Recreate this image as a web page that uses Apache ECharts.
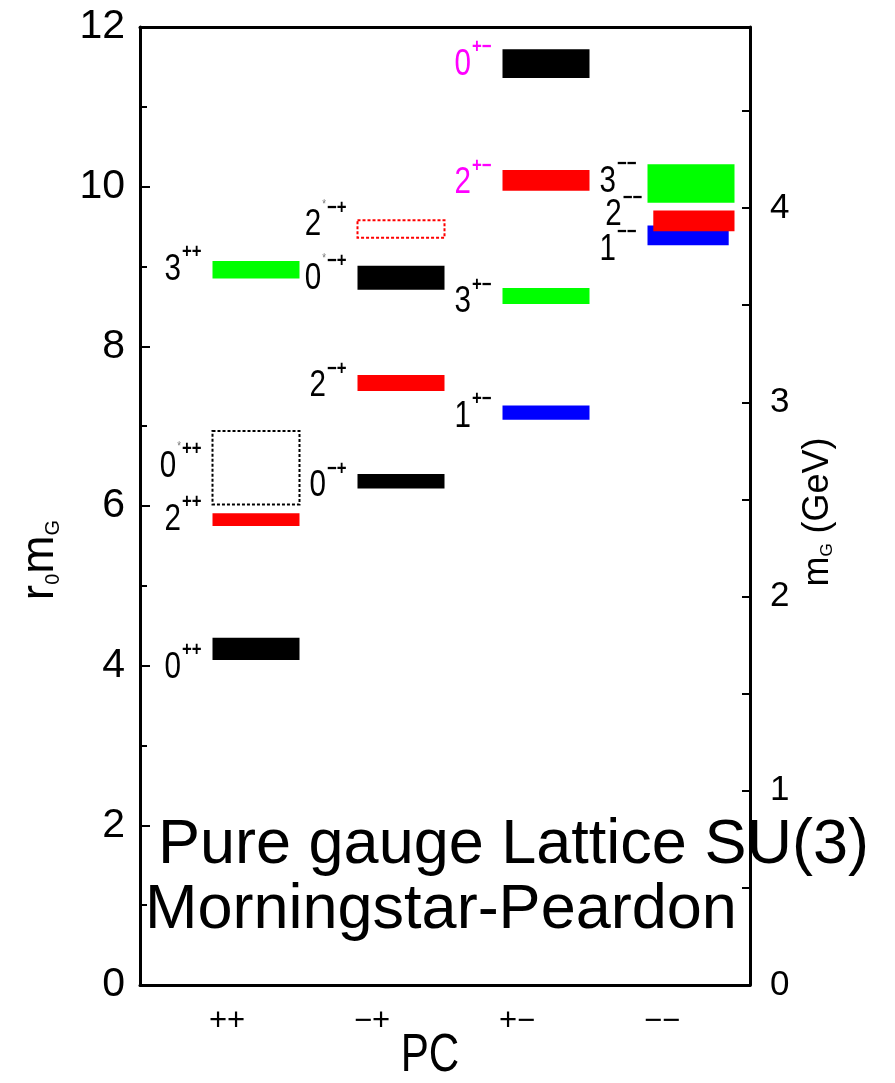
<!DOCTYPE html>
<html>
<head>
<meta charset="utf-8">
<script src="https://cdn.jsdelivr.net/npm/echarts@6/dist/echarts.min.js"></script>
<style>
html,body{margin:0;padding:0;background:#fff;}
#chart{width:895px;height:1083px;}
</style>
</head>
<body>
<div id="chart"></div>
<script>
// ---- data ----
const pcLabels = ['++', '\u2212+', '+\u2212', '\u2212\u2212'];
const leftTicks = [0, 2, 4, 6, 8, 10, 12];
const gevPerR0 = 0.411; // conversion r0 m_G -> GeV used for right axis
// glueball levels (r0 m_G), column = PC index
const levelJ     = ['0', '2', '0', '3',   '0', '2', '0', '2',   '1', '3', '2', '0',    '1', '2', '3'];
const levelStar  = [false, false, true, false,  false, false, true, true,  false, false, false, false,  false, false, false];
const levelCol   = [0, 0, 0, 0,   1, 1, 1, 1,   2, 2, 2, 2,   3, 3, 3];
const levelMass  = [4.21, 5.83, 6.48, 8.96,   6.31, 7.54, 8.86, 9.47,   7.17, 8.63, 10.08, 11.54,   9.39, 9.57, 10.04];
const levelErr   = [0.14, 0.08, 0.46, 0.11,   0.09, 0.10, 0.15, 0.11,   0.09, 0.10, 0.13, 0.18,   0.125, 0.13, 0.24];

// ---- styles ----
const levelColor = ['#000000', '#ff0000', '#000000', '#00ff00',  '#000000', '#ff0000', '#000000', '#ff0000',
                    '#0000ff', '#00ff00', '#ff0000', '#000000',  '#0000ff', '#ff0000', '#00ff00'];
const levelDashed = [false, false, true, false,  false, false, false, true,  false, false, false, false,  false, false, false];
const labelColor = ['#000', '#000', '#000', '#000',  '#000', '#000', '#000', '#000',  '#000', '#000', '#ff00ff', '#ff00ff',  '#000', '#000', '#000'];
const labelDy = [19, 0, -1, 0,  5, 3, 1, -4,  4, 6, 3, 1,  14, -6, -2];
const barInset = {12: [0, -0.04], 13: [0.04, 0]};

const sans = '"Liberation Sans", Arial, sans-serif';
const SX = 0.8;          // horizontal squeeze of level labels
const digitFont = 37, supFont = 21, starFont = 12;

const measureCtx = document.createElement('canvas').getContext('2d');
function textW(str, font) { measureCtx.font = font; return measureCtx.measureText(str).width; }

const data = levelMass.map((m, i) => [levelCol[i], m, levelErr[i]]);

const chart = echarts.init(document.getElementById('chart'));

function renderItem(params, api) {
  const i = params.dataIndex;
  const col = api.value(0), m = api.value(1), e = api.value(2);
  const ins = barInset[i] || [0, 0];
  const a = api.coord([col + 0.5 + ins[0], m + e]);
  const b = api.coord([col + 1.1 + ins[1], m - e]);
  const color = levelColor[i];
  const rect = {
    type: 'rect',
    shape: {x: a[0], y: a[1], width: b[0] - a[0], height: b[1] - a[1]},
    style: levelDashed[i]
      ? {fill: 'none', stroke: color, lineWidth: 2, lineDash: [3, 2]}
      : {fill: color}
  };
  const cy = api.coord([col + 0.5, m])[1] + labelDy[i];
  const lc = labelColor[i];
  const sup = pcLabels[col];
  const right = a[0] - 11;
  const supW = textW(sup, 'bold ' + supFont + 'px ' + sans) * SX;
  const supX = right - supW;
  const starW = levelStar[i] ? textW('*', starFont + 'px ' + sans) * SX + 1 : 0;
  const starX = supX - starW;
  const digitRight = starX - 1;
  const digitTop = cy - 0.358 * digitFont;
  const children = [rect,
    {
      type: 'text', x: digitRight, y: cy, scaleX: SX,
      style: {text: levelJ[i], fontSize: digitFont, fontFamily: sans, fill: lc, align: 'right', verticalAlign: 'middle'}
    },
    {
      type: 'text', x: supX, y: digitTop - 4, scaleX: SX,
      style: {text: sup, fontSize: supFont, fontWeight: 'bold', fontFamily: sans, fill: lc, align: 'left', verticalAlign: 'middle'}
    }
  ];
  if (levelStar[i]) {
    children.push({
      type: 'text', x: starX, y: digitTop - 7, scaleX: SX,
      style: {text: '*', fontSize: starFont, fontFamily: sans, fill: '#777', align: 'left', verticalAlign: 'middle'}
    });
  }
  return {type: 'group', children: children};
}

const xMax = 610 / 145;

chart.setOption({
  animation: false,
  backgroundColor: '#fff',
  grid: {left: 140, right: 145, top: 27, bottom: 98},
  xAxis: [
    {
      type: 'value', min: 0, max: xMax, position: 'bottom',
      axisLine: {show: true, onZero: false, lineStyle: {color: '#000', width: 3}},
      axisTick: {show: false},
      splitLine: {show: false},
      axisLabel: {
        customValues: pcLabels.map((p, k) => k + 0.6),
        formatter: v => pcLabels[Math.round(v - 0.6)],
        fontSize: 31, fontFamily: sans, color: '#000', margin: 21
      }
    },
    {
      type: 'value', min: 0, max: xMax, position: 'top',
      axisLine: {show: true, onZero: false, lineStyle: {color: '#000', width: 3}},
      axisTick: {show: false}, axisLabel: {show: false}, splitLine: {show: false}
    }
  ],
  yAxis: [
    {
      type: 'value', min: leftTicks[0], max: leftTicks[leftTicks.length - 1], interval: 2, position: 'left',
      axisLine: {show: true, onZero: false, lineStyle: {color: '#000', width: 3}},
      axisTick: {show: true, inside: true, length: 10, lineStyle: {color: '#000', width: 2}},
      minorTick: {show: true, splitNumber: 2, length: 7, lineStyle: {color: '#000', width: 2}},
      splitLine: {show: false}, minorSplitLine: {show: false},
      axisLabel: {fontSize: 41, fontFamily: sans, color: '#000', margin: 15}
    },
    {
      type: 'value', min: 0, max: 12 * gevPerR0, interval: 1, position: 'right',
      axisLine: {show: true, onZero: false, lineStyle: {color: '#000', width: 3}},
      axisTick: {show: true, inside: true, length: 8, lineStyle: {color: '#000', width: 2}},
      minorTick: {show: true, splitNumber: 2, length: 8, lineStyle: {color: '#000', width: 2}},
      splitLine: {show: false}, minorSplitLine: {show: false},
      axisLabel: {
        fontSize: 35, fontFamily: sans, color: '#000', margin: 20, showMaxLabel: false,
        formatter: v => (Math.abs(v - Math.round(v)) < 1e-9 ? String(Math.round(v)) : '')
      }
    }
  ],
  series: [{
    type: 'custom',
    xAxisIndex: 0, yAxisIndex: 0,
    renderItem: renderItem,
    encode: {x: 0, y: 1},
    data: data,
    clip: false
  }],
  graphic: [
    {
      type: 'text', x: 158, y: 846, z: 100,
      style: {text: 'Pure gauge Lattice SU(3)', fontSize: 63, fontFamily: sans, fill: '#000', verticalAlign: 'middle', align: 'left'}
    },
    {
      type: 'text', x: 145, y: 911, z: 100,
      style: {text: 'Morningstar-Peardon', fontSize: 63, fontFamily: sans, fill: '#000', verticalAlign: 'middle', align: 'left'}
    },
    {
      type: 'text', x: 430, y: 1056, z: 100, scaleX: 0.78,
      style: {text: 'PC', fontSize: 54, fontFamily: sans, fill: '#000', verticalAlign: 'middle', align: 'center'}
    },
    {
      type: 'text', x: 40, y: 560, rotation: Math.PI / 2, z: 100,
      style: {
        text: '{a|r}{b|0}{a|m}{b|G}', align: 'center', verticalAlign: 'middle',
        rich: {
          a: {fontSize: 46, fontFamily: sans, fill: '#000', lineHeight: 46, verticalAlign: 'middle'},
          b: {fontSize: 20, fontFamily: sans, fill: '#000', lineHeight: 20, verticalAlign: 'bottom'}
        }
      }
    },
    {
      type: 'text', x: 818, y: 512, rotation: Math.PI / 2, z: 100,
      style: {
        text: '{a|m}{b|G}{a| (GeV)}', align: 'center', verticalAlign: 'middle',
        rich: {
          a: {fontSize: 36, fontFamily: sans, fill: '#000', lineHeight: 36, verticalAlign: 'middle'},
          b: {fontSize: 17, fontFamily: sans, fill: '#000', lineHeight: 17, verticalAlign: 'bottom'}
        }
      }
    }
  ]
});
</script>
</body>
</html>
